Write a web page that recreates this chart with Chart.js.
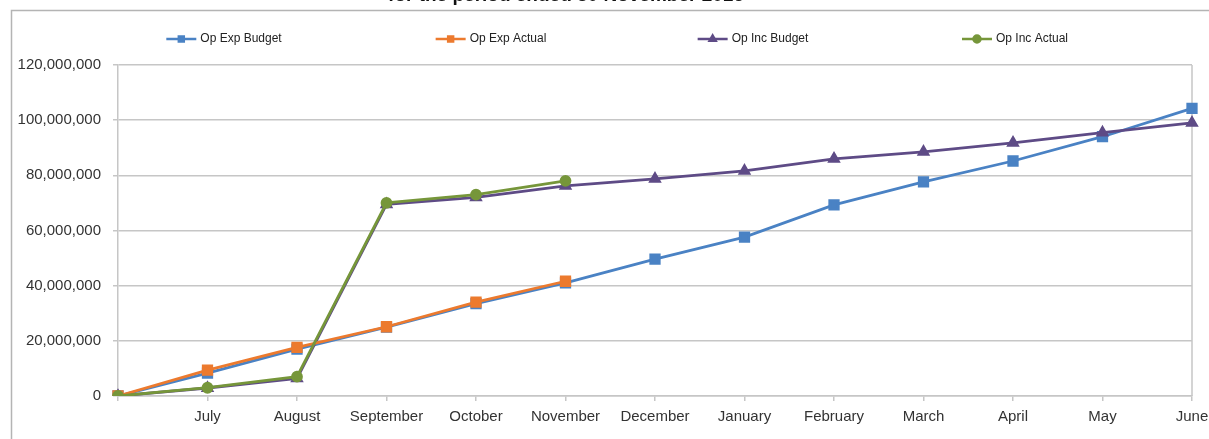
<!DOCTYPE html>
<html>
<head>
<meta charset="utf-8">
<script src="https://cdn.jsdelivr.net/npm/chart.js@4.4.1/dist/chart.umd.min.js"></script>
<style>
  html, body { margin: 0; padding: 0; background: #fff; }
  #wrap { width: 1209px; height: 439px; position: relative; }
</style>
</head>
<body>
<div id="wrap"><canvas id="opChart" width="1209" height="439"></canvas></div>
<script>
const months = ['', 'July', 'August', 'September', 'October', 'November', 'December',
  'January', 'February', 'March', 'April', 'May', 'June'];

const opExpBudget = [0, 8300000, 17000000, 25000000, 33500000, 41000000, 49600000,
  57600000, 69300000, 77600000, 85200000, 94000000, 104300000];
const opExpActual = [0, 9400000, 17600000, 25100000, 34000000, 41600000,
  null, null, null, null, null, null, null];
const opIncBudget = [0, 2900000, 6400000, 69500000, 72000000, 76200000, 78700000,
  81600000, 86000000, 88500000, 91800000, 95500000, 99000000];
const opIncActual = [0, 3000000, 7000000, 70000000, 73000000, 78000000,
  null, null, null, null, null, null, null];

const yTicks = [0, 20000000, 40000000, 60000000, 80000000, 100000000, 120000000];

const titleText = 'for the period ended 30 November 2016';
const legendCentres = [224, 491, 753, 1015];

const gridGrey = '#c6c6c6';

// frame, clipped title, plot border and the line+marker legend
const decorations = {
  id: 'decorations',
  beforeDraw(chart) {
    const c = chart.ctx;
    c.save();
    c.fillStyle = '#fff';
    c.fillRect(0, 0, chart.width, chart.height);
    c.fillStyle = '#111';
    c.font = 'bold 19px "Liberation Sans", Arial, sans-serif';
    c.textAlign = 'center';
    c.textBaseline = 'alphabetic';
    c.fillText(titleText, 566, 1);
    c.strokeStyle = '#b4b4b4';
    c.lineWidth = 1.5;
    c.beginPath();
    c.moveTo(11.5, chart.height + 2);
    c.lineTo(11.5, 10.5);
    c.lineTo(chart.width + 2, 10.5);
    c.stroke();
    c.restore();
  },
  beforeDatasetsDraw(chart) {
    const a = chart.chartArea;
    const c = chart.ctx;
    c.save();
    c.strokeStyle = gridGrey;
    c.lineWidth = 1.5;
    c.beginPath();
    c.moveTo(a.right, a.top);
    c.lineTo(a.right, a.bottom);
    c.stroke();
    c.restore();
  },
  afterDraw(chart) {
    const c = chart.ctx;
    c.save();
    c.font = '12px "Liberation Sans Narrow", "Liberation Sans", Arial, sans-serif';
    c.textBaseline = 'middle';
    chart.data.datasets.forEach((ds, i) => {
      const w = 30 + 4 + c.measureText(ds.label).width;
      const x0 = legendCentres[i] - w / 2;
      const y = 39;
      c.strokeStyle = ds.borderColor;
      c.fillStyle = ds.borderColor;
      c.lineWidth = 2.5;
      c.beginPath();
      c.moveTo(x0, y);
      c.lineTo(x0 + 30, y);
      c.stroke();
      Chart.helpers.drawPoint(c, {
        pointStyle: ds.pointStyle, radius: 3.5, borderWidth: 1
      }, x0 + 15, y);
      c.fillStyle = '#222';
      c.fillText(ds.label, x0 + 34, y);
    });
    c.restore();
  }
};

function series(label, data, colour, marker, order) {
  return {
    label: label,
    data: data,
    borderColor: colour,
    backgroundColor: colour,
    pointBackgroundColor: colour,
    pointBorderColor: colour,
    pointStyle: marker,
    pointRadius: marker === 'rect' ? 6 : (marker === 'triangle' ? 5 : 4.5),
    borderWidth: 2.8,
    tension: 0,
    spanGaps: false,
    order: order
  };
}

const ctx = document.getElementById('opChart').getContext('2d');
new Chart(ctx, {
  type: 'line',
  data: {
    labels: months,
    datasets: [
      series('Op Exp Budget', opExpBudget, '#4a82c4', 'rect', 3),
      series('Op Exp Actual', opExpActual, '#ec7a2e', 'rect', 1),
      series('Op Inc Budget', opIncBudget, '#5e4b86', 'triangle', 2),
      series('Op Inc Actual', opIncActual, '#76963a', 'circle', 0)
    ]
  },
  options: {
    responsive: false,
    animation: false,
    layout: { padding: { left: 0, top: 65, right: 17, bottom: 0 } },
    plugins: {
      legend: { display: false },
      tooltip: { enabled: false }
    },
    scales: {
      x: {
        offset: false,
        afterFit(scale) {
          scale.height = 43;
          scale.paddingRight = 0;
          scale.paddingLeft = 0;
        },
        grid: { drawOnChartArea: false, drawTicks: true, tickLength: 5, color: gridGrey, lineWidth: 1.5 },
        border: { color: gridGrey, width: 1.5 },
        ticks: {
          autoSkip: false,
          maxRotation: 0,
          padding: 7,
          color: '#333',
          font: { family: '"Liberation Sans", Arial, sans-serif', size: 15 }
        }
      },
      y: {
        min: 0,
        max: 120000000,
        afterFit(scale) { scale.width = 118; },
        afterBuildTicks(scale) { scale.ticks = yTicks.map(v => ({ value: v })); },
        grid: { color: gridGrey, lineWidth: 1.5, tickLength: 5 },
        border: { color: gridGrey, width: 1.5 },
        ticks: {
          padding: 12,
          color: '#333',
          font: { family: '"Liberation Sans", Arial, sans-serif', size: 15 },
          callback: v => Number(v).toLocaleString('en-US')
        }
      }
    }
  },
  plugins: [decorations]
});
</script>
</body>
</html>
